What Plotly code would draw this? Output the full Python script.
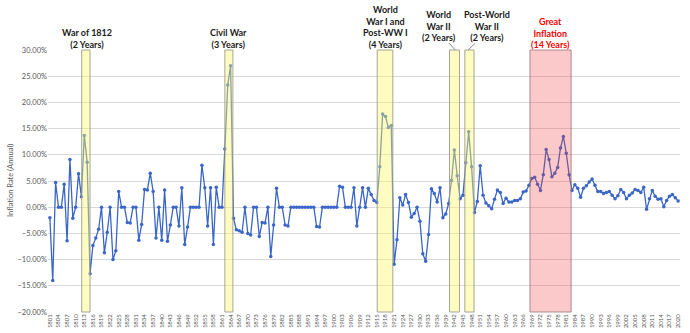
import plotly.graph_objects as go

# ---------------- data ----------------
years = list(range(1801, 2021))
inflation_pct = [
    -2.0, -14.0, 4.7, 0, 0, 4.4, -6.4, 9.1, -2.1, 0, 6.4, 2.0,          # 1801-1812
    13.7, 8.6, -12.7, -7.3, -5.9, -4.2, 0, -8.7, -4.8, 0, -10.0, -8.3,  # 1813-1824
    3.0, 0, 0, -2.9, -3.0, 0, 0, -6.3, -3.3, 3.4, 3.3, 6.5,             # 1825-1836
    3.0, -5.9, 0, -6.3, 3.3, -6.5, -3.4, 0, 0, -3.6, 3.7, -7.1,         # 1837-1848
    -3.8, 0, 0, 0, 0, 8.0, 3.7, -3.6, 3.7, -7.1, 3.8, 0,                # 1849-1860
    0, 11.1, 23.3, 27.0, -2.1, -4.3, -4.5, -4.8, 0, -5.0, -5.3, 0,      # 1861-1872
    0, -5.6, -2.9, -3.0, 0, -9.4, -3.4, 3.6, 0, 0, -3.4, -3.6,          # 1873-1884
    0, 0, 0, 0, 0, 0, 0, 0, 0, -3.7, -3.8, 0,                           # 1885-1896
    0, 0, 0, 0, 0, 4.0, 3.8, 0, 0, 0, 3.7, -3.6,                        # 1897-1908
    0, 3.7, 0, 3.6, 2.4, 1.3, 0.9, 7.7, 17.8, 17.3, 15.2, 15.6,         # 1909-1920
    -10.9, -6.2, 1.8, 0.4, 2.4, 0.9, -1.9, -1.2, 0.0, -2.7, -8.9, -10.3,  # 1921-1932
    -5.2, 3.5, 2.6, 1.0, 3.7, -2.0, -1.3, 0.7, 5.1, 10.9, 6.0, 1.6,     # 1933-1944
    2.3, 8.5, 14.4, 7.7, -1.0, 1.1, 7.9, 2.3, 0.8, 0.3, -0.3, 1.5,      # 1945-1956
    3.3, 2.8, 0.7, 1.7, 1.0, 1.0, 1.3, 1.3, 1.6, 2.9, 3.1, 4.2,         # 1957-1968
    5.5, 5.7, 4.4, 3.2, 6.2, 11.0, 9.1, 5.8, 6.5, 7.6, 11.3, 13.5,      # 1969-1980
    10.3, 6.2, 3.2, 4.3, 3.6, 1.9, 3.6, 4.1, 4.8, 5.4, 4.2, 3.0,        # 1981-1992
    3.0, 2.6, 2.8, 3.0, 2.3, 1.6, 2.2, 3.4, 2.8, 1.6, 2.3, 2.7,         # 1993-2004
    3.4, 3.2, 2.8, 3.8, -0.4, 1.6, 3.2, 2.1, 1.5, 1.6, 0.1, 1.3,        # 2005-2016
    2.1, 2.4, 1.8, 1.2,                                                 # 2017-2020
]
tick_years = list(range(1801, 2021, 3))
tick_labels = [str(y) for y in tick_years]
y_tick_vals = [-0.20, -0.15, -0.10, -0.05, 0.0, 0.05, 0.10, 0.15, 0.20, 0.25, 0.30]

band_labels = [
    "War of 1812<br>(2 Years)",
    "Civil War<br>(3 Years)",
    "World<br>War I and<br>Post-WW I<br>(4 Years)",
    "World<br>War II<br>(2 Years)",
    "Post-World<br>War II<br>(2 Years)",
    "Great<br>Inflation<br>(14 Years)",
]
band_starts = [1812.1, 1862.0, 1915.1, 1940.3, 1945.65, 1968.35]
band_ends = [1815.0, 1864.8, 1920.55, 1943.8, 1948.85, 1982.7]
band_kinds = ["war", "war", "war", "war", "war", "great"]
label_x = [1813.9, 1863.3, 1918.1, 1936.5, 1953.4, 1975.6]
label_y = [1.0458, 1.0458, 1.088, 1.092, 1.092, 1.066]

# ---------------- figure ----------------
W, H = 690, 333
ML, MR, MT, MB = 48, 10, 50, 21

line_col = "#3A66C8"
fig = go.Figure()
fig.add_trace(go.Scatter(
    x=years, y=[v / 100 for v in inflation_pct],
    mode="lines+markers",
    line=dict(color=line_col, width=1.3),
    marker=dict(color=line_col, size=3.5, symbol="circle"),
    showlegend=False, hoverinfo="x+y",
))

shapes = []
annotations = []
for lab, s, e, kind, lx, ly in zip(band_labels, band_starts, band_ends,
                                   band_kinds, label_x, label_y):
    if kind == "great":
        fill = "rgba(240,60,60,0.28)"
        border = "rgba(150,120,120,0.8)"
        tcol = "#FF0000"
    else:
        fill = "rgba(255,248,110,0.42)"
        border = "rgba(150,150,140,0.85)"
        tcol = "#1a1a1a"
    shapes.append(dict(type="rect", xref="x", yref="paper", x0=s, x1=e,
                       y0=0, y1=1, layer="above", fillcolor=fill,
                       line=dict(color=border, width=1)))
    annotations.append(dict(text="<b>" + lab + "</b>", xref="x", yref="paper",
                            x=lx, y=ly, xanchor="center", yanchor="middle",
                            showarrow=False,
                            font=dict(family="Lato", size=9, color=tcol)))

# leader lines for WWII / Post-WWII labels
shapes.append(dict(type="line", xref="x", yref="paper", x0=1940.1, x1=1942.3,
                   y0=1.027, y1=1.0, line=dict(color="#888888", width=1)))
shapes.append(dict(type="line", xref="x", yref="paper", x0=1949.2, x1=1946.8,
                   y0=1.025, y1=1.0, line=dict(color="#888888", width=1)))

annotations.append(dict(text="Inflation Rate (Annual)", xref="paper", yref="paper",
                        x=(10 - ML) / (W - ML - MR), y=0.5, xanchor="center",
                        yanchor="middle", textangle=-90, showarrow=False,
                        font=dict(family="Lato", size=7.5, color="#595959")))

fig.update_layout(
    width=W, height=H,
    margin=dict(l=ML, r=MR, t=MT, b=MB),
    paper_bgcolor="white", plot_bgcolor="white",
    shapes=shapes, annotations=annotations,
    font=dict(family="Lato", color="#595959"),
    xaxis=dict(range=[1800.35, 2020.65], tickmode="array", tickvals=tick_years,
               ticktext=tick_labels, tickangle=-90, showgrid=False,
               zeroline=False, showline=False, ticks="", automargin=False,
               tickfont=dict(family="Lato", size=6, color="#595959")),
    yaxis=dict(range=[-0.20, 0.30], tickmode="array", tickvals=y_tick_vals,
               tickformat=".2%", showgrid=True, gridcolor="#D9D9D9",
               gridwidth=1, zeroline=False, showline=False, ticks="",
               automargin=False,
               tickfont=dict(family="Lato", size=7.5, color="#595959")),
)

fig.write_html("out.html")
